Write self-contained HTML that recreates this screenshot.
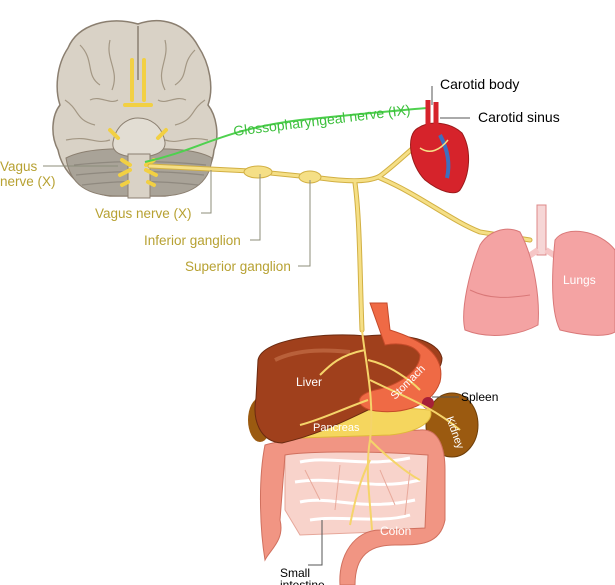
<!DOCTYPE html>
<html><head><style>
html,body{margin:0;padding:0;background:#fff;}
svg{display:block;font-family:"Liberation Sans",sans-serif;}
</style></head><body>
<svg width="615" height="585" viewBox="0 0 615 585" xmlns="http://www.w3.org/2000/svg">
<!-- Brain -->
<path d="M138 24 C110 16 78 24 68 48 C56 66 55 90 60 105 C52 115 50 135 58 150 C62 170 80 192 110 196 L165 196 C195 192 212 172 214 150 C220 135 216 115 208 105 C214 88 210 64 198 46 C185 22 160 16 138 24Z" fill="#d9d2c6" stroke="#8b7f70" stroke-width="1.5"/>
<path d="M66 158 C85 148 120 148 138 150 C160 148 195 148 212 158 C210 185 188 196 160 196 L118 196 C88 196 70 185 66 158Z" fill="#a9a398" stroke="#8b7f70"/>
<g stroke="#a39784" stroke-width="1.2" fill="none">
<path d="M80 45 C95 60 85 75 100 85 M110 40 C105 60 120 70 112 90 M165 40 C170 60 155 70 165 90 M195 50 C180 65 190 75 175 85 M65 100 C80 110 75 120 95 125 M205 100 C190 110 195 120 175 125 M66 140 C90 135 95 145 110 140 M208 140 C185 135 180 145 165 140 M90 100 C100 95 110 105 118 100 M186 100 C176 95 166 105 158 100"/>
<path d="M74 165 Q138 158 206 165 M76 175 Q138 168 204 175 M82 185 Q138 178 198 185" stroke="#8f897f"/>
</g>
<path d="M138 26 L138 80" stroke="#8b7f70" stroke-width="1.5"/>
<path d="M113 142 C116 125 128 118 138 118 C150 118 162 125 165 142 C166 154 150 157 138 157 C125 157 111 154 113 142Z" fill="#e2ddd3" stroke="#8b7f70"/>
<rect x="128" y="154" width="22" height="44" fill="#d9d2c6" stroke="#8b7f70"/>
<g stroke="#f2d043" stroke-width="4" stroke-linecap="round" fill="none">
<path d="M132 60 L132 100 M144 60 L144 100 M125 105 L151 105"/>
<path d="M110 130 L118 138 M166 130 L158 138 M122 160 L130 165 M154 160 L146 165 M120 175 L130 170 M156 175 L146 170 M122 185 L128 182 M154 185 L148 182"/>
</g>
<!-- Glossopharyngeal -->
<path d="M145 162 C200 150 220 130 300 120 C360 114 400 110 428 108" stroke="#4fd14f" stroke-width="2" fill="none"/>
<text x="234" y="136" fill="#3bbf3b" font-size="14" transform="rotate(-7 234 136)">Glossopharyngeal nerve (IX)</text>
<!-- Main vagus nerve -->
<g fill="none" stroke-linecap="round">
<path d="M150 166 L250 171 L320 178 C350 182 370 182 380 176 C395 165 410 150 425 138 M380 178 C420 195 450 220 480 232 L530 240 M355 183 C360 220 360 280 362 330" stroke="#d2b043" stroke-width="5"/>
<path d="M150 166 L250 171 L320 178 C350 182 370 182 380 176 C395 165 410 150 425 138 M380 178 C420 195 450 220 480 232 L530 240 M355 183 C360 220 360 280 362 330" stroke="#f5df86" stroke-width="3"/>
</g>
<ellipse cx="258" cy="172" rx="14" ry="6" fill="#f5df86" stroke="#d2b043"/>
<ellipse cx="310" cy="177" rx="11" ry="6" fill="#f5df86" stroke="#d2b043"/>
<!-- Heart -->
<path d="M418 128 C405 135 410 165 425 180 C440 192 455 196 460 190 C470 175 472 150 462 133 C450 122 430 120 418 128Z" fill="#d6232b" stroke="#9b1a1a"/>
<path d="M428 100 L428 125 M436 102 L436 125" stroke="#d6232b" stroke-width="5"/>
<path d="M440 135 C448 150 450 165 447 178" stroke="#3d6fbf" stroke-width="4" fill="none"/>
<path d="M420 148 C430 155 440 150 448 140" stroke="#f5df86" stroke-width="1.5" fill="none"/>
<!-- Lungs -->
<rect x="537" y="205" width="9" height="50" fill="#f6d6d6" stroke="#d88"/>
<path d="M538 250 L520 262 M546 250 L565 262" stroke="#f6c6c6" stroke-width="6"/>
<path d="M480 245 C470 270 460 310 465 330 C490 340 520 335 538 325 C540 300 535 260 520 232 C505 225 488 232 480 245Z" fill="#f4a3a3" stroke="#d97878"/>
<path d="M555 240 C552 270 550 310 560 330 C580 335 605 338 615 332 L615 250 C600 230 565 225 555 240Z" fill="#f4a3a3" stroke="#d97878"/>
<path d="M470 290 C490 300 510 298 530 295" stroke="#d97878" fill="none"/>
<!-- Kidney -->
<ellipse cx="452" cy="425" rx="26" ry="32" fill="#9b5a10" stroke="#6e3e08"/>
<ellipse cx="260" cy="420" rx="12" ry="22" fill="#9b5a10"/>
<!-- Small intestine -->
<path d="M285 440 L430 440 L430 530 L300 535 L285 510Z" fill="#f8d3cb" stroke="#e6a79a"/>
<g stroke="#fff" stroke-width="3" fill="none">
<path d="M300 462 C330 455 360 468 410 458 M295 482 C340 475 370 492 420 480 M300 502 C330 495 360 512 415 500 M310 520 C340 515 380 524 410 515"/>
</g>
<g stroke="#e8aa9c" stroke-width="1" fill="none">
<path d="M305 470 L320 500 M340 465 L335 510 M380 470 L395 505 M410 470 L405 515"/>
</g>
<!-- Colon -->
<path d="M265 445 C300 435 350 435 420 430 C440 428 445 450 445 470 L445 520 C440 545 420 545 395 545 C370 545 355 555 355 585 L340 585 C338 555 355 530 380 530 L425 528 L428 455 C360 450 300 452 285 455 L280 520 C285 540 270 550 265 560 C260 530 258 480 265 445Z" fill="#f19583" stroke="#d0705e"/>
<!-- Pancreas -->
<path d="M300 420 C330 410 380 405 430 410 C435 420 420 432 390 435 L300 438Z" fill="#f5d65e" stroke="#e0b83a"/>
<ellipse cx="298" cy="430" rx="12" ry="7" fill="#1e9b2a"/>
<!-- Liver -->
<path d="M258 360 C262 338 330 332 365 336 C405 332 438 340 442 358 C442 375 420 388 395 398 C360 412 330 432 282 443 C260 442 252 420 256 398 Z" fill="#a0401c" stroke="#6b2a10"/>
<path d="M275 360 C300 348 330 350 350 352" stroke="#b9603a" stroke-width="4" fill="none"/>
<!-- Stomach -->
<path d="M370 303 L387 303 L390 330 C422 340 446 355 440 382 C430 410 395 415 370 410 C355 405 355 395 375 390 C400 385 420 370 420 355 C415 345 400 342 385 345 Z" fill="#ef6a45" stroke="#c54a2a"/>
<circle cx="428" cy="403" r="6" fill="#a62038"/>
<!-- nerve branches into organs -->
<g fill="none" stroke="#f5d46a" stroke-width="2">
<path d="M362 330 C365 360 375 400 370 440 C365 470 370 500 372 530 M365 350 C340 355 330 365 320 375 M368 360 C390 365 410 380 420 390 M370 380 C400 395 430 405 460 430 M368 400 C340 410 320 420 300 425 M370 440 C390 460 410 475 420 480 M370 460 C360 480 355 500 350 525"/>
</g>
<!-- Labels -->
<g fill="#fff" font-size="12">
<text x="296" y="386">Liver</text>
<text x="313" y="431" font-size="11">Pancreas</text>
<text x="380" y="535" font-size="12">Colon</text>
<text x="563" y="284">Lungs</text>
<text x="395" y="400" transform="rotate(-45 395 400)" font-size="11">Stomach</text>
<text x="446" y="418" transform="rotate(70 446 418)" font-size="11" fill="#fff">Kidney</text>
</g>
<g fill="#000" font-size="14">
<text x="440" y="89">Carotid body</text>
<text x="478" y="122">Carotid sinus</text>
<text x="461" y="401" font-size="12">Spleen</text>
<text x="280" y="577" font-size="12">Small</text>
<text x="280" y="589" font-size="12">intestine</text>
</g>
<g stroke="#555" fill="none" stroke-width="1">
<path d="M432 86 L432 105 M470 118 L440 118 M459 397 L432 397 M308 565 L322 565 L322 520"/>
</g>
<g fill="#b7a132" font-size="13.5">
<text x="0" y="171">Vagus</text>
<text x="0" y="186">nerve (X)</text>
<text x="95" y="218">Vagus nerve (X)</text>
<text x="144" y="245">Inferior ganglion</text>
<text x="185" y="271">Superior ganglion</text>
</g>
<g stroke="#8c8c7a" fill="none" stroke-width="1">
<path d="M43 166 L118 166 M201 213 L211 213 L211 170 M250 240 L260 240 L260 174 M298 266 L310 266 L310 180"/>
</g>
</svg>
</body></html>
